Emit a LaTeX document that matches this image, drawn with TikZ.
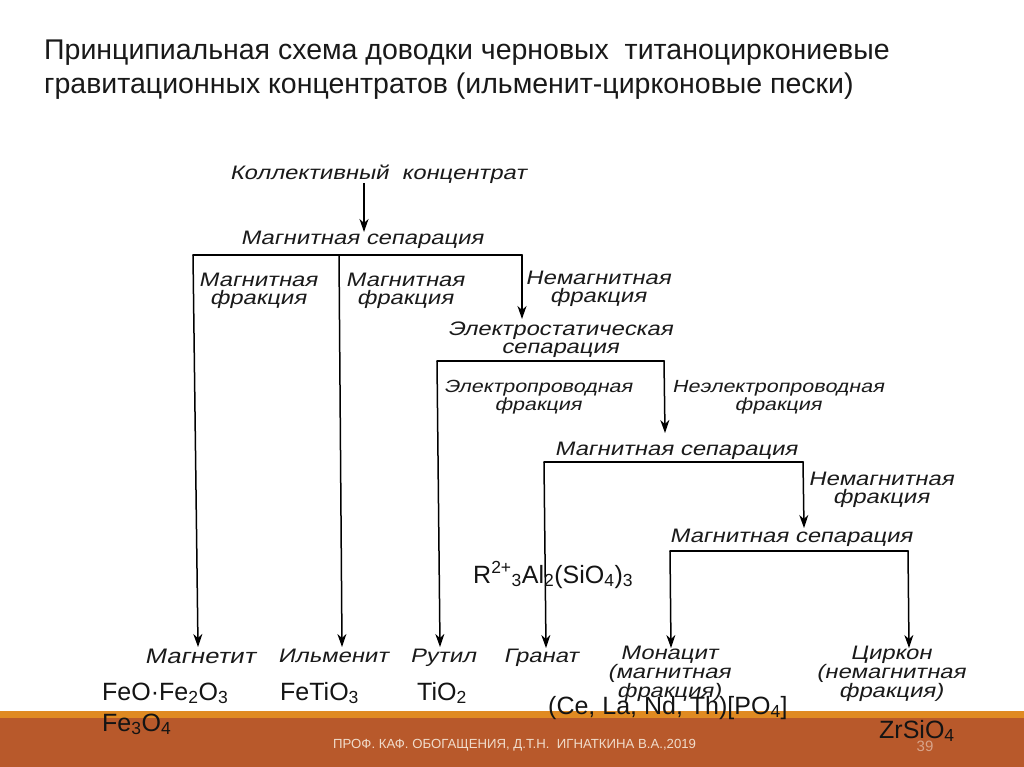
\documentclass[tikz,border=0pt]{standalone}
\usepackage{fontspec}
\setmainfont{Liberation Sans}
\newfontfamily\hand[FakeSlant=0.22,FakeStretch=1.22]{Liberation Sans}
\usetikzlibrary{arrows.meta}
\definecolor{bando}{HTML}{E08A22}
\definecolor{bandr}{HTML}{B8592B}
\definecolor{foot}{HTML}{F0DCCB}
\definecolor{ink}{HTML}{1A1A1A}
\newcommand{\sub}[1]{\textsubscript{#1}}
\tikzset{
  x=1pt,y=-1pt,
  titletext/.style={anchor=base west,inner sep=0,font=\fontsize{28.5}{34}\selectfont,text=black!90},
  scan/.style={inner sep=0,align=center,text=ink,font=\hand\fontsize{19.5}{17.6}\selectfont},
  scannarrow/.style={scan,font=\hand\fontsize{17.6}{17.6}\selectfont},
  scanwide/.style={scan,font=\hand\fontsize{21}{17.6}\selectfont},
  formula/.style={anchor=base west,inner sep=0,text=black!92,font=\fontsize{25}{30}\selectfont},
  bus/.style={draw=black,line width=2pt,line cap=round},
  feed/.style={draw=black,line width=1.5pt,-{Stealth[length=13pt,width=9pt,inset=4pt]}},
}
\begin{document}
\begin{tikzpicture}
\useasboundingbox (0,0) rectangle (1024,767);
\fill[white] (0,0) rectangle (1024,767);
\fill[bando] (0,711) rectangle (1024,718);
\fill[bandr] (0,718) rectangle (1024,767);
% title
\node[titletext] (t1) at (44,60) {Принципиальная схема доводки черновых\ \ титаноциркониевые};
\node[titletext] (t2) at (44,94) {гравитационных концентратов (ильменит-цирконовые пески)};
% scanned labels
\node[scan] (kk) at (378,174) {Коллективный\ \ концентрат};
\node[scan] (ms1) at (362,240) {Магнитная сепарация};
\node[scan] (mf1) at (258,291) {Магнитная\\фракция};
\node[scan] (mf2) at (405,291) {Магнитная\\фракция};
\node[scan] (nf1) at (598,289) {Немагнитная\\фракция};
\node[scan] (es) at (560,340) {Электростатическая\\сепарация};
\node[scannarrow] (ep) at (538,397) {Электропроводная\\фракция};
\node[scannarrow] (nep) at (778,397) {Неэлектропроводная\\фракция};
\node[scan] (ms2) at (676,451) {Магнитная сепарация};
\node[scan] (nf2) at (881,490) {Немагнитная\\фракция};
\node[scan] (ms3) at (791,538) {Магнитная сепарация};
\node[scanwide] (mag) at (200,656) {Магнетит};
\node[scan] (ilm) at (333,656) {Ильменит};
\node[scan] (rut) at (443,658) {Рутил};
\node[scan] (gra) at (541,658) {Гранат};
\node[scan] (mon) at (669,674) {Монацит\\(магнитная\\фракция)};
\node[scan] (cir) at (891,674) {Циркон\\(немагнитная\\фракция)};
% branching points
\coordinate (a1) at (193,255); \coordinate (a2) at (339,255); \coordinate (a3) at (522,255);
\coordinate (b1) at (437,361); \coordinate (b2) at (664,361);
\coordinate (c1) at (544,462); \coordinate (c2) at (803,462);
\coordinate (d1) at (670,551); \coordinate (d2) at (908,551);
\coordinate (top) at (364,183);
\draw[bus] (a1) -- (a3);
\draw[bus] (b1) -- (b2);
\draw[bus] (c1) -- (c2);
\draw[bus] (d1) -- (d2);
% feeds
\coordinate (e0) at (364,232); \coordinate (e1) at (198,647); \coordinate (e2) at (342,647);
\coordinate (e3) at (522,319); \coordinate (e4) at (440,647); \coordinate (e5) at (665,433);
\coordinate (e6) at (546,648); \coordinate (e7) at (804,528); \coordinate (e8) at (671,648);
\coordinate (e9) at (909,648);
\draw[feed] (top) -- (e0);
\draw[feed] (a1) -- (e1);
\draw[feed] (a2) -- (e2);
\draw[feed] (a3) -- (e3);
\draw[feed] (b1) -- (e4);
\draw[feed] (b2) -- (e5);
\draw[feed] (c1) -- (e6);
\draw[feed] (c2) -- (e7);
\draw[feed] (d1) -- (e8);
\draw[feed] (d2) -- (e9);
% formulas
\node[formula] (f1) at (102,700) {FeO·Fe\sub{2}O\sub{3}};
\node[formula] (f2) at (102,731) {Fe\sub{3}O\sub{4}};
\node[formula] (f3) at (280,700) {FeTiO\sub{3}};
\node[formula] (f4) at (417,700) {TiO\sub{2}};
\node[formula] (f5) at (473,583) {R\textsuperscript{2+}\sub{3}Al\sub{2}(SiO\sub{4})\sub{3}};
\node[formula] (f6) at (548,714) {(Ce, La, Nd, Th)[PO\sub{4}]};
\node[formula] (f7) at (879,738) {ZrSiO\sub{4}};
% footer
\node[anchor=west,inner sep=0,text=foot,font=\fontsize{13.2}{15}\selectfont] (ft) at (333,745.5) {ПРОФ. КАФ. ОБОГАЩЕНИЯ, Д.Т.Н.\ \ ИГНАТКИНА В.А.,2019};
\node[inner sep=0,text=bandr!55!white,font=\fontsize{15}{17}\selectfont] (pg) at (925,746) {39};
\end{tikzpicture}
\end{document}
